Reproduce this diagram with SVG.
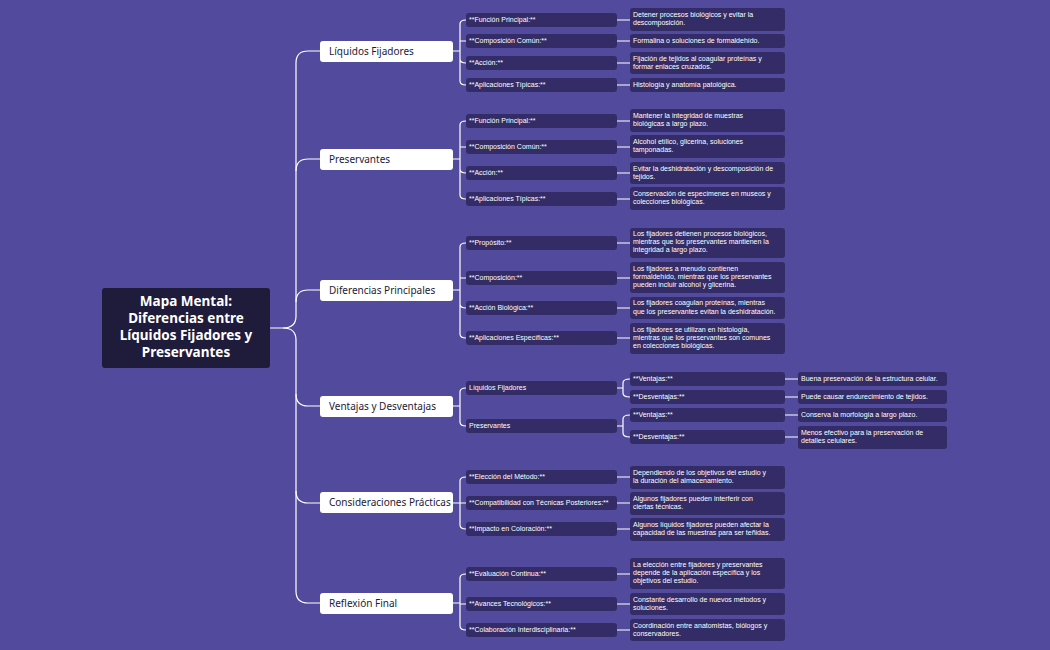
<svg xmlns="http://www.w3.org/2000/svg" width="1050" height="650" viewBox="0 0 1050 650">
<style>
.m{fill:#fff}
.mt{font-family:"Noto Sans","Liberation Sans",sans-serif;font-size:10px;fill:#1e1a36}
.b{fill:#332c66}
.t{font-family:"Liberation Sans",sans-serif;font-size:7px;fill:#fff}
.c{fill:none;stroke:#fff;stroke-width:1.2}
</style>
<rect width="1050" height="650" fill="#514a9d"/>
<g id="connectors" class="c">
<path d="M270 328 H283 Q296 328 296 316 V63 Q296 51 308 51 H320"/>
<path d="M296 171 Q296 159 308 159 H320"/>
<path d="M296 302 Q296 290 308 290 H320"/>
<path d="M296 394 Q296 406 308 406 H320"/>
<path d="M283 328 Q296 328 296 340 V591 Q296 603 308 603 H320"/>
<path d="M296 491 Q296 503 308 503 H320"/>
<path d="M453 51 H460 M460 51 V24 Q460 20 466 20 M460 41 Q460 41 466 41 M460 51 V59 Q460 63 466 63 M460 51 V81 Q460 85 466 85"/>
<path d="M453 159 H460 M460 159 V125 Q460 121 466 121 M460 147 H466 M460 159 V169 Q460 173 466 173 M460 159 V195 Q460 199 466 199"/>
<path d="M453 290 H460 M460 290 V247 Q460 243 466 243 M460 278 H466 M460 290 V304 Q460 308 466 308 M460 290 V334 Q460 338 466 338"/>
<path d="M453 406 H460 M460 406 V392 Q460 388 466 388 M460 406 V422 Q460 426 466 426"/>
<path d="M617 388 H623 M623 388 V383 Q623 379 630 379 M623 388 V393 Q623 397 630 397"/>
<path d="M617 426 H623 M623 426 V419 Q623 415 630 415 M623 426 V433 Q623 437 630 437"/>
<path d="M453 503 H460 M460 503 V481 Q460 477 466 477 M460 503 H466 M460 503 V525 Q460 529 466 529"/>
<path d="M453 603 H460 M460 603 V578 Q460 574 466 574 M460 604 H466 M460 603 V626 Q460 630 466 630"/>
<path d="M617 20 H630 M617 41 H630 M617 63 H630 M617 85 H630 M617 121 H630 M617 147 H630 M617 173 H630 M617 199 H630 M617 243 H630 M617 278 H630 M617 308 H630 M617 338 H630 M785 379 H798 M785 397 H798 M785 415 H798 M785 437 H798 M617 477 H630 M617 503 H630 M617 529 H630 M617 574 H630 M617 604 H630 M617 630 H630"/>
</g>
<g id="root"><rect x="102" y="288" width="168" height="80" rx="3" fill="#1f1b3a"/>
<text font-family="Noto Sans,Liberation Sans,sans-serif" font-size="13.5" font-weight="bold" fill="#fff" text-anchor="middle"><tspan x="186" y="306">Mapa Mental:</tspan><tspan x="186" y="323">Diferencias entre</tspan><tspan x="186" y="340">Líquidos Fijadores y</tspan><tspan x="186" y="357">Preservantes</tspan></text></g>
<g id="n1"><rect class="m" x="320" y="41" width="133" height="21" rx="3"/><text class="mt" x="329" y="55">Líquidos Fijadores</text></g>
<g id="n2"><rect class="m" x="320" y="149" width="133" height="21" rx="3"/><text class="mt" x="329" y="163">Preservantes</text></g>
<g id="n3"><rect class="m" x="320" y="280" width="133" height="21" rx="3"/><text class="mt" x="329" y="294">Diferencias Principales</text></g>
<g id="n4"><rect class="m" x="320" y="396" width="133" height="21" rx="3"/><text class="mt" x="329" y="410">Ventajas y Desventajas</text></g>
<g id="n5"><rect class="m" x="320" y="492" width="133" height="21" rx="3"/><text class="mt" x="329" y="506">Consideraciones Prácticas</text></g>
<g id="n6"><rect class="m" x="320" y="593" width="133" height="21" rx="3"/><text class="mt" x="329" y="607">Reflexión Final</text></g>
<g id="l2">
<rect class="b" x="466" y="13" width="151" height="14" rx="3"/><text class="t" x="469" y="22">**Función Principal:**</text>
<rect class="b" x="466" y="34" width="151" height="14" rx="3"/><text class="t" x="469" y="43">**Composición Común:**</text>
<rect class="b" x="466" y="56" width="151" height="14" rx="3"/><text class="t" x="469" y="65">**Acción:**</text>
<rect class="b" x="466" y="78" width="151" height="14" rx="3"/><text class="t" x="469" y="87">**Aplicaciones Típicas:**</text>
<rect class="b" x="466" y="114" width="151" height="14" rx="3"/><text class="t" x="469" y="123">**Función Principal:**</text>
<rect class="b" x="466" y="140" width="151" height="14" rx="3"/><text class="t" x="469" y="149">**Composición Común:**</text>
<rect class="b" x="466" y="166" width="151" height="14" rx="3"/><text class="t" x="469" y="175">**Acción:**</text>
<rect class="b" x="466" y="192" width="151" height="14" rx="3"/><text class="t" x="469" y="201">**Aplicaciones Típicas:**</text>
<rect class="b" x="466" y="236" width="151" height="14" rx="3"/><text class="t" x="469" y="245">**Propósito:**</text>
<rect class="b" x="466" y="271" width="151" height="14" rx="3"/><text class="t" x="469" y="280">**Composición:**</text>
<rect class="b" x="466" y="301" width="151" height="14" rx="3"/><text class="t" x="469" y="310">**Acción Biológica:**</text>
<rect class="b" x="466" y="331" width="151" height="14" rx="3"/><text class="t" x="469" y="340">**Aplicaciones Específicas:**</text>
<rect class="b" x="466" y="381" width="151" height="14" rx="3"/><text class="t" x="469" y="390">Líquidos Fijadores</text>
<rect class="b" x="466" y="419" width="151" height="14" rx="3"/><text class="t" x="469" y="428">Preservantes</text>
<rect class="b" x="630" y="372" width="155" height="14" rx="3"/><text class="t" x="633" y="381">**Ventajas:**</text>
<rect class="b" x="630" y="390" width="155" height="14" rx="3"/><text class="t" x="633" y="399">**Desventajas:**</text>
<rect class="b" x="630" y="408" width="155" height="14" rx="3"/><text class="t" x="633" y="417">**Ventajas:**</text>
<rect class="b" x="630" y="430" width="155" height="14" rx="3"/><text class="t" x="633" y="439">**Desventajas:**</text>
<rect class="b" x="466" y="470" width="151" height="14" rx="3"/><text class="t" x="469" y="479">**Elección del Método:**</text>
<rect class="b" x="466" y="496" width="151" height="14" rx="3"/><text class="t" x="469" y="505">**Compatibilidad con Técnicas Posteriores:**</text>
<rect class="b" x="466" y="522" width="151" height="14" rx="3"/><text class="t" x="469" y="531">**Impacto en Coloración:**</text>
<rect class="b" x="466" y="567" width="151" height="14" rx="3"/><text class="t" x="469" y="576">**Evaluación Continua:**</text>
<rect class="b" x="466" y="597" width="151" height="14" rx="3"/><text class="t" x="469" y="606">**Avances Tecnológicos:**</text>
<rect class="b" x="466" y="623" width="151" height="14" rx="3"/><text class="t" x="469" y="632">**Colaboración Interdisciplinaria:**</text>
</g>
<g id="leaves">
<rect class="b" x="630" y="8" width="155" height="23" rx="3"/><text class="t"><tspan x="633" y="17">Detener procesos biológicos y evitar la</tspan><tspan x="633" y="25">descomposición.</tspan></text>
<rect class="b" x="630" y="34" width="155" height="14" rx="3"/><text class="t" x="633" y="43">Formalina o soluciones de formaldehído.</text>
<rect class="b" x="630" y="52" width="155" height="22" rx="3"/><text class="t"><tspan x="633" y="61">Fijación de tejidos al coagular proteínas y</tspan><tspan x="633" y="69">formar enlaces cruzados.</tspan></text>
<rect class="b" x="630" y="78" width="155" height="14" rx="3"/><text class="t" x="633" y="87">Histología y anatomía patológica.</text>
<rect class="b" x="630" y="109" width="155" height="23" rx="3"/><text class="t"><tspan x="633" y="118">Mantener la integridad de muestras</tspan><tspan x="633" y="126">biológicas a largo plazo.</tspan></text>
<rect class="b" x="630" y="135" width="155" height="23" rx="3"/><text class="t"><tspan x="633" y="144">Alcohol etílico, glicerina, soluciones</tspan><tspan x="633" y="152">tamponadas.</tspan></text>
<rect class="b" x="630" y="162" width="155" height="22" rx="3"/><text class="t"><tspan x="633" y="171">Evitar la deshidratación y descomposición de</tspan><tspan x="633" y="179">tejidos.</tspan></text>
<rect class="b" x="630" y="187" width="155" height="23" rx="3"/><text class="t"><tspan x="633" y="196">Conservación de especímenes en museos y</tspan><tspan x="633" y="204">colecciones biológicas.</tspan></text>
<rect class="b" x="630" y="228" width="155" height="30" rx="3"/><text class="t"><tspan x="633" y="236">Los fijadores detienen procesos biológicos,</tspan><tspan x="633" y="244">mientras que los preservantes mantienen la</tspan><tspan x="633" y="252">integridad a largo plazo.</tspan></text>
<rect class="b" x="630" y="262" width="155" height="31" rx="3"/><text class="t"><tspan x="633" y="271">Los fijadores a menudo contienen</tspan><tspan x="633" y="279">formaldehído, mientras que los preservantes</tspan><tspan x="633" y="287">pueden incluir alcohol y glicerina.</tspan></text>
<rect class="b" x="630" y="297" width="155" height="22" rx="3"/><text class="t"><tspan x="633" y="305">Los fijadores coagulan proteínas, mientras</tspan><tspan x="633" y="314">que los preservantes evitan la deshidratación.</tspan></text>
<rect class="b" x="630" y="323" width="155" height="31" rx="3"/><text class="t"><tspan x="633" y="332">Los fijadores se utilizan en histología,</tspan><tspan x="633" y="340">mientras que los preservantes son comunes</tspan><tspan x="633" y="348">en colecciones biológicas.</tspan></text>
<rect class="b" x="798" y="372" width="149" height="14" rx="3"/><text class="t" x="801" y="381">Buena preservación de la estructura celular.</text>
<rect class="b" x="798" y="390" width="149" height="14" rx="3"/><text class="t" x="801" y="399">Puede causar endurecimiento de tejidos.</text>
<rect class="b" x="798" y="408" width="149" height="14" rx="3"/><text class="t" x="801" y="417">Conserva la morfología a largo plazo.</text>
<rect class="b" x="798" y="426" width="149" height="23" rx="3"/><text class="t"><tspan x="801" y="435">Menos efectivo para la preservación de</tspan><tspan x="801" y="443">detalles celulares.</tspan></text>
<rect class="b" x="630" y="466" width="155" height="23" rx="3"/><text class="t"><tspan x="633" y="475">Dependiendo de los objetivos del estudio y</tspan><tspan x="633" y="483">la duración del almacenamiento.</tspan></text>
<rect class="b" x="630" y="492" width="155" height="23" rx="3"/><text class="t"><tspan x="633" y="501">Algunos fijadores pueden interferir con</tspan><tspan x="633" y="509">ciertas técnicas.</tspan></text>
<rect class="b" x="630" y="518" width="155" height="23" rx="3"/><text class="t"><tspan x="633" y="527">Algunos líquidos fijadores pueden afectar la</tspan><tspan x="633" y="535">capacidad de las muestras para ser teñidas.</tspan></text>
<rect class="b" x="630" y="558" width="155" height="31" rx="3"/><text class="t"><tspan x="633" y="567">La elección entre fijadores y preservantes</tspan><tspan x="633" y="575">depende de la aplicación específica y los</tspan><tspan x="633" y="583">objetivos del estudio.</tspan></text>
<rect class="b" x="630" y="593" width="155" height="22" rx="3"/><text class="t"><tspan x="633" y="602">Constante desarrollo de nuevos métodos y</tspan><tspan x="633" y="610">soluciones.</tspan></text>
<rect class="b" x="630" y="619" width="155" height="22" rx="3"/><text class="t"><tspan x="633" y="628">Coordinación entre anatomistas, biólogos y</tspan><tspan x="633" y="636">conservadores.</tspan></text>
</g>
</svg>
